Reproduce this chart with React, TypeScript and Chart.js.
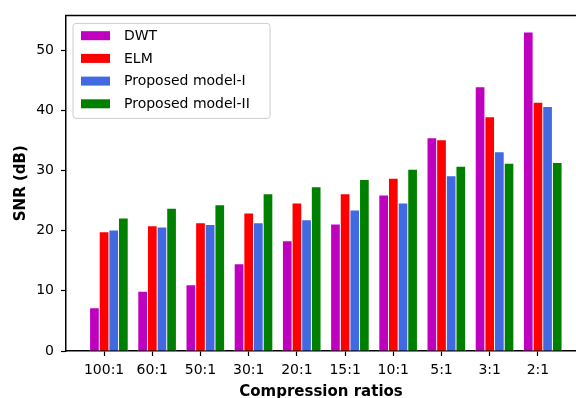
import React, { useEffect, useRef } from "react";
import { Chart, registerables } from "chart.js";

Chart.register(...registerables);

const categories = ["100:1", "60:1", "50:1", "30:1", "20:1", "15:1", "10:1", "5:1", "3:1", "2:1"];
const dwt = [7.2, 9.9, 11.0, 14.5, 18.3, 21.1, 25.9, 35.4, 43.9, 53.0];
const elm = [19.8, 20.8, 21.3, 22.9, 24.6, 26.1, 28.7, 35.1, 38.9, 41.3];
const modelI = [20.1, 20.6, 21.0, 21.3, 21.8, 23.4, 24.6, 29.1, 33.1, 40.6];
const modelII = [22.1, 23.7, 24.3, 26.1, 27.3, 28.5, 30.2, 30.7, 31.2, 31.3];
const seriesNames = ["DWT", "ELM", "Proposed model-I", "Proposed model-II"];
const seriesColors = ["#bf00bf", "#ff0000", "#4169e1", "#008000"];
const yTickValues = [0, 10, 20, 30, 40, 50];

const FONT = '"DejaVu Sans", sans-serif';

const frameAndLegend = {
  id: "frameAndLegend",
  afterDraw(chart: any) {
    const ctx = chart.ctx;
    const a = chart.chartArea;
    ctx.save();
    // top spine
    ctx.strokeStyle = "#000";
    ctx.lineWidth = 1.5;
    ctx.beginPath();
    ctx.moveTo(a.left - 0.75, a.top);
    ctx.lineTo(a.right + 2, a.top);
    ctx.stroke();

    // legend box
    const bx = a.left + 7;
    const by = a.top + 8;
    const bw = 197;
    const bh = 95;
    const r = 3;
    ctx.beginPath();
    ctx.moveTo(bx + r, by);
    ctx.lineTo(bx + bw - r, by);
    ctx.arcTo(bx + bw, by, bx + bw, by + r, r);
    ctx.lineTo(bx + bw, by + bh - r);
    ctx.arcTo(bx + bw, by + bh, bx + bw - r, by + bh, r);
    ctx.lineTo(bx + r, by + bh);
    ctx.arcTo(bx, by + bh, bx, by + bh - r, r);
    ctx.lineTo(bx, by + r);
    ctx.arcTo(bx, by, bx + r, by, r);
    ctx.closePath();
    ctx.fillStyle = "rgba(255,255,255,0.8)";
    ctx.fill();
    ctx.strokeStyle = "#cccccc";
    ctx.lineWidth = 1;
    ctx.stroke();

    ctx.font = `14px ${FONT}`;
    ctx.textBaseline = "middle";
    ctx.textAlign = "left";
    seriesNames.forEach((name, i) => {
      const cy = by + 12.3 + i * 22.7;
      ctx.fillStyle = seriesColors[i];
      ctx.fillRect(bx + 8, cy - 4.5, 29, 9);
      ctx.fillStyle = "#000";
      ctx.fillText(name, bx + 51, cy + 0.5);
    });
    ctx.restore();
  },
};

export default function App() {
  const ref = useRef<HTMLCanvasElement | null>(null);

  useEffect(() => {
    document.body.style.margin = "0";
    const canvas = ref.current;
    if (!canvas) return;
    const seriesValues = [dwt, elm, modelI, modelII];
    const datasets = seriesValues.map((vals, k) => ({
      label: seriesNames[k],
      data: vals.map((v, i) => ({ x: i + (k - 1) * 0.2, y: v })),
      backgroundColor: seriesColors[k],
      borderColor: "#ffffff",
      borderWidth: 0.8,
      grouped: false,
      categoryPercentage: 1,
      barPercentage: 1,
    }));

    const chart = new Chart(canvas, {
      type: "bar",
      data: { datasets } as any,
      options: {
        animation: false,
        responsive: false,
        maintainAspectRatio: false,
        layout: { padding: { top: 14, right: 0, left: 0, bottom: 0 } },
        plugins: { legend: { display: false }, tooltip: { enabled: false } },
        scales: {
          x: {
            type: "linear",
            offset: false,
            min: -0.79,
            max: 9.79,
            afterBuildTicks: (scale: any) => {
              scale.ticks = categories.map((_, i) => ({ value: i }));
            },
            afterFit: (scale: any) => {
              scale.height = 47;
            },
            ticks: {
              autoSkip: false,
              maxRotation: 0,
              padding: 6,
              color: "#000",
              font: { family: FONT, size: 14 },
              callback: (v: any) => categories[Math.round(Number(v))],
            },
            grid: {
              offset: false,
              drawOnChartArea: false,
              drawTicks: true,
              tickLength: 5,
              tickColor: "#000",
              tickWidth: 1.2,
            },
            border: { display: true, color: "#000", width: 1.5 },
            title: {
              display: true,
              text: "Compression ratios",
              color: "#000",
              font: { family: FONT, size: 15, weight: "bold" },
              padding: { top: 0, bottom: -3 },
            },
          },
          y: {
            min: 0,
            max: 55.75,
            afterBuildTicks: (scale: any) => {
              scale.ticks = yTickValues.map((v) => ({ value: v }));
            },
            afterFit: (scale: any) => {
              scale.width = 66;
            },
            ticks: {
              padding: 7,
              color: "#000",
              font: { family: FONT, size: 14 },
            },
            grid: {
              drawOnChartArea: false,
              drawTicks: true,
              tickLength: 5,
              tickColor: "#000",
              tickWidth: 1.2,
            },
            border: { display: true, color: "#000", width: 1.5 },
            title: {
              display: true,
              text: "SNR (dB)",
              color: "#000",
              font: { family: FONT, size: 15, weight: "bold" },
              padding: { top: 12, bottom: 0 },
            },
          },
        },
      },
      plugins: [frameAndLegend],
    } as any);

    return () => chart.destroy();
  }, []);

  return (
    <div style={{ width: 576, height: 398 }}>
      <canvas ref={ref} width={576} height={398} style={{ display: "block" }} />
    </div>
  );
}
